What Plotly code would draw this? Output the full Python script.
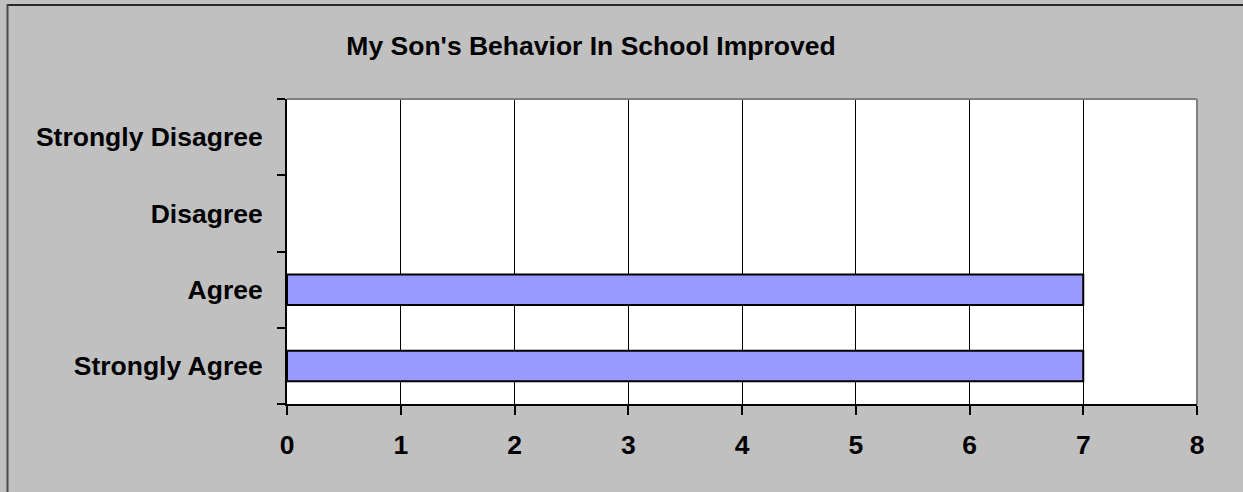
import plotly.graph_objects as go

categories = ["Strongly Agree", "Agree", "Disagree", "Strongly Disagree"]
counts = [7, 7, 0, 0]
x_ticks = [0, 1, 2, 3, 4, 5, 6, 7, 8]
title_text = "My Son's Behavior In School Improved"

W, H = 1243, 492
L, R, T, B = 287, 46, 99, 88
FONT = "Liberation Sans, Arial, sans-serif"
FS = 26.5

fig = go.Figure(
    go.Bar(
        x=counts,
        y=categories,
        orientation="h",
        width=0.4,
        marker=dict(color="#9999FF",
                    line=dict(color="#000000",
                              width=[2 if v else 0 for v in counts])),
        hoverinfo="x+y",
    )
)

pw = W - L - R
ph = H - T - B

def px_to_paper_x(px):
    return (px - L) / pw

def px_to_paper_y(py):
    return (H - B - py) / ph

fig.update_layout(
    width=W,
    height=H,
    margin=dict(l=L, r=R, t=T, b=B, pad=0),
    paper_bgcolor="#C0C0C0",
    plot_bgcolor="#FFFFFF",
    showlegend=False,
    font=dict(family=FONT, size=FS, color="#000000"),
    title=dict(
        text="<b>" + title_text + "</b>",
        xref="container", yref="container",
        x=591 / W, y=1 - 46 / H,
        xanchor="center", yanchor="middle",
        font=dict(family=FONT, size=FS, color="#000000"),
    ),
    xaxis=dict(
        range=[0, 8],
        tickvals=x_ticks,
        ticktext=["<b>%d</b>" % v for v in x_ticks],
        showgrid=True, gridcolor="#000000", gridwidth=1,
        zeroline=False,
        showline=True, linecolor="#000000", linewidth=2,
        ticks="outside", ticklen=9, tickwidth=1.5, tickcolor="#000000",
        ticklabelstandoff=7,
        fixedrange=True,
    ),
    yaxis=dict(
        type="category",
        categoryorder="array", categoryarray=categories,
        tickvals=categories,
        ticktext=["<b>%s</b>" % c for c in categories],
        tickson="boundaries",
        showgrid=False, zeroline=False,
        showline=True, linecolor="#000000", linewidth=2,
        ticks="outside", ticklen=8, tickwidth=1.5, tickcolor="#000000",
        ticklabelstandoff=17,
        fixedrange=True,
    ),
    shapes=[
        dict(type="line", xref="paper", yref="paper", x0=0, x1=1, y0=1, y1=1,
             line=dict(color="#808080", width=2)),
        dict(type="line", xref="paper", yref="paper", x0=1, x1=1, y0=0, y1=1,
             line=dict(color="#808080", width=2)),
        # outer chart border: only left and top edges are inside the picture
        dict(type="line", xref="paper", yref="paper",
             x0=px_to_paper_x(7), x1=px_to_paper_x(W),
             y0=px_to_paper_y(5), y1=px_to_paper_y(5),
             line=dict(color="#2a2a2a", width=2), layer="above"),
        dict(type="line", xref="paper", yref="paper",
             x0=px_to_paper_x(7.5), x1=px_to_paper_x(7.5),
             y0=px_to_paper_y(4), y1=px_to_paper_y(H),
             line=dict(color="#4a4a4a", width=2), layer="above"),
    ],
)

fig.write_html(
    "out.html",
    config={"displayModeBar": False},
    post_script="document.body.style.margin='0';"
                "document.body.style.overflow='hidden';"
                "document.body.style.background='#C0C0C0';",
)
